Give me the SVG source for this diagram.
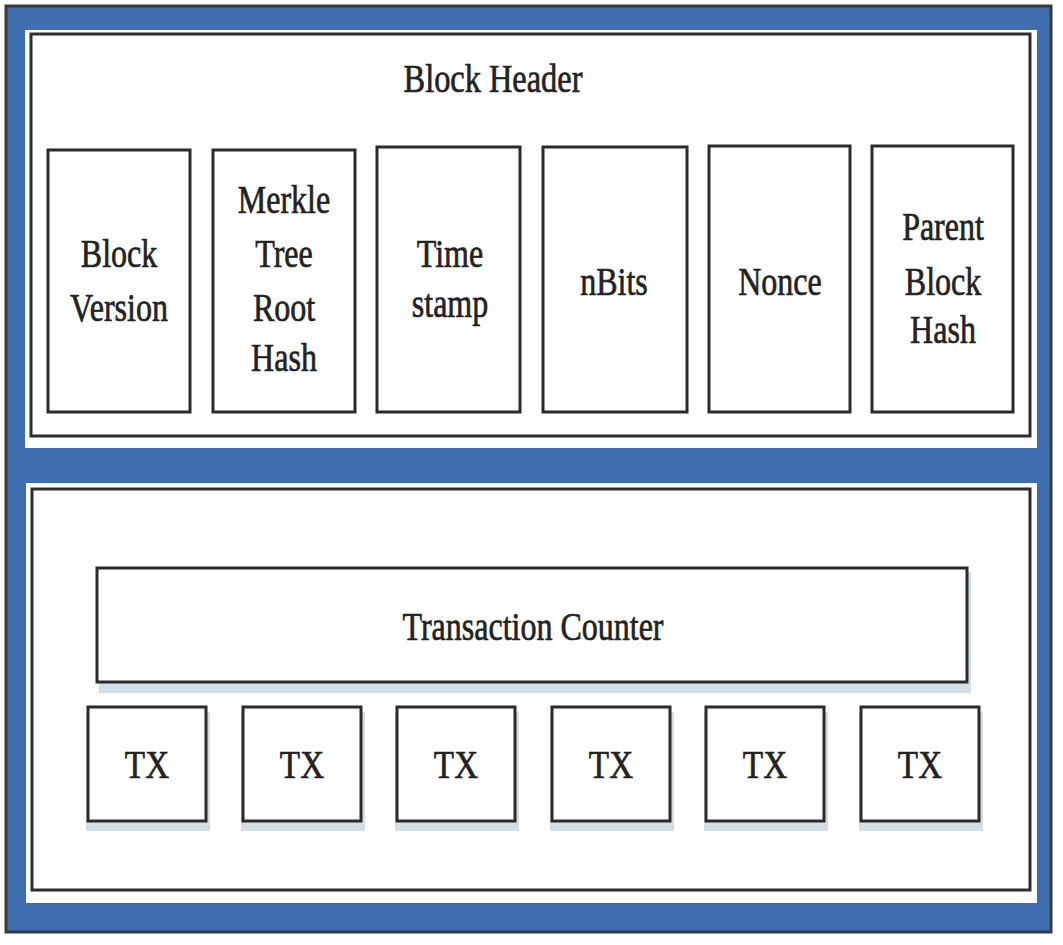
<svg xmlns="http://www.w3.org/2000/svg" width="1063" height="945" viewBox="0 0 1063 945">
<style>
.panel{fill:#ffffff}
.frame{fill:none;stroke:#2e2e2e;stroke-width:3}
.box{fill:#ffffff;stroke:#2b2b2b;stroke-width:3}
.shadow{fill:#d5dde6}
.t{font-family:"Liberation Serif","Times New Roman",serif;font-size:40px;fill:#232323;stroke:#232323;stroke-width:0.7;text-anchor:middle}
</style>
<rect x="0" y="0" width="1063" height="945" fill="#ffffff"/>
<g id="outer">
<rect x="6" y="6" width="1045" height="926" fill="#3e6eb0" stroke="#3a3a3a" stroke-width="3"/>
</g>
<g id="header-panel">
<rect class="panel" x="25" y="30" width="1012" height="418"/>
<rect class="frame" x="31" y="34" width="999" height="402"/>
<text class="t" transform="translate(493,92) scale(0.81,1)">Block Header</text>
</g>
<g id="body-panel">
<rect class="panel" x="26" y="483" width="1011" height="420"/>
<rect class="frame" x="32" y="489" width="998" height="401"/>
</g>
<g id="block-version">
<rect class="box" x="48" y="150" width="142" height="262"/>
<text class="t" transform="translate(119,267) scale(0.8,1)">Block</text>
<text class="t" transform="translate(119,321) scale(0.8,1)">Version</text>
</g>
<g id="merkle-root">
<rect class="box" x="213" y="150" width="142" height="262"/>
<text class="t" transform="translate(284,213) scale(0.8,1)">Merkle</text>
<text class="t" transform="translate(284,267) scale(0.8,1)">Tree</text>
<text class="t" transform="translate(284,321) scale(0.8,1)">Root</text>
<text class="t" transform="translate(284,371) scale(0.8,1)">Hash</text>
</g>
<g id="timestamp">
<rect class="box" x="377" y="147" width="143" height="265"/>
<text class="t" transform="translate(450,267) scale(0.8,1)">Time</text>
<text class="t" transform="translate(450,317) scale(0.8,1)">stamp</text>
</g>
<g id="nbits">
<rect class="box" x="543" y="147" width="144" height="265"/>
<text class="t" transform="translate(614,295) scale(0.8,1)">nBits</text>
</g>
<g id="nonce">
<rect class="box" x="709" y="146" width="141" height="266"/>
<text class="t" transform="translate(780,295) scale(0.8,1)">Nonce</text>
</g>
<g id="parent-hash">
<rect class="box" x="872" y="146" width="141" height="266"/>
<text class="t" transform="translate(943,240) scale(0.8,1)">Parent</text>
<text class="t" transform="translate(943,295) scale(0.8,1)">Block</text>
<text class="t" transform="translate(943,343) scale(0.8,1)">Hash</text>
</g>
<g id="transaction-counter">
<rect class="shadow" x="99" y="572" width="872" height="121"/>
<rect class="box" x="97" y="568" width="870" height="114"/>
<text class="t" transform="translate(533,640) scale(0.8,1)">Transaction Counter</text>
</g>
<g id="tx1">
<rect class="shadow" x="86" y="712" width="124" height="119"/>
<rect class="box" x="88" y="707" width="118" height="114"/>
<text class="t" transform="translate(147,778) scale(0.83,1)">TX</text>
</g>
<g id="tx2">
<rect class="shadow" x="241" y="712" width="124" height="119"/>
<rect class="box" x="243" y="707" width="118" height="114"/>
<text class="t" transform="translate(302,778) scale(0.83,1)">TX</text>
</g>
<g id="tx3">
<rect class="shadow" x="395" y="712" width="124" height="119"/>
<rect class="box" x="397" y="707" width="118" height="114"/>
<text class="t" transform="translate(456,778) scale(0.83,1)">TX</text>
</g>
<g id="tx4">
<rect class="shadow" x="550" y="712" width="124" height="119"/>
<rect class="box" x="552" y="707" width="118" height="114"/>
<text class="t" transform="translate(611,778) scale(0.83,1)">TX</text>
</g>
<g id="tx5">
<rect class="shadow" x="704" y="712" width="124" height="119"/>
<rect class="box" x="706" y="707" width="118" height="114"/>
<text class="t" transform="translate(765,778) scale(0.83,1)">TX</text>
</g>
<g id="tx6">
<rect class="shadow" x="859" y="712" width="124" height="119"/>
<rect class="box" x="861" y="707" width="118" height="114"/>
<text class="t" transform="translate(920,778) scale(0.83,1)">TX</text>
</g>
<g id="connectors"></g>
</svg>
